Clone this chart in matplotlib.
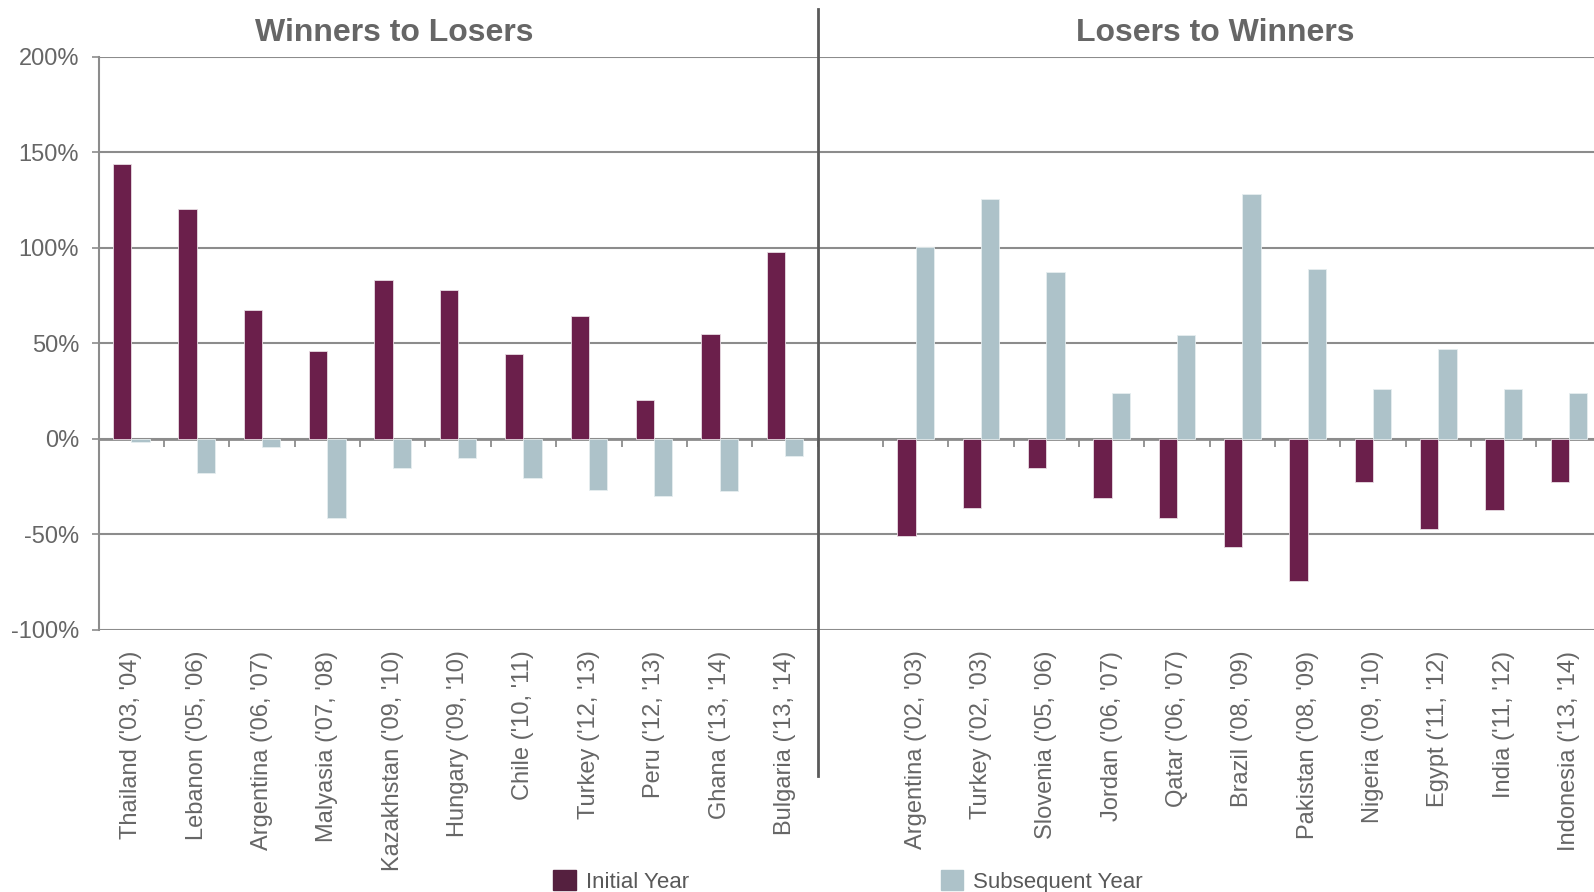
import matplotlib
matplotlib.use("Agg")
import matplotlib.pyplot as plt
from matplotlib.patches import Patch
from matplotlib.ticker import FuncFormatter
import numpy as np

plt.rcParams['font.family'] = ['Liberation Sans', 'DejaVu Sans']

# Winners to Losers (left panel)
left_labels = ["Thailand ('03, '04)", "Lebanon ('05, '06)", "Argentina ('06, '07)",
               "Malyasia ('07, '08)", "Kazakhstan ('09, '10)", "Hungary ('09, '10)",
               "Chile ('10, '11)", "Turkey ('12, '13)", "Peru ('12, '13)",
               "Ghana ('13, '14)", "Bulgaria ('13, '14)"]
left_initial = [143.7, 120.3, 67.2, 45.9, 83.2, 77.7, 44.2, 64.2, 20.1, 54.8, 97.7]
left_subsequent = [-1.6, -17.8, -4.2, -41.4, -15.2, -9.9, -20.6, -26.9, -30.2, -27.6, -8.9]

# Losers to Winners (right panel)
right_labels = ["Argentina ('02, '03)", "Turkey ('02, '03)", "Slovenia ('05, '06)",
                "Jordan ('06, '07)", "Qatar ('06, '07)", "Brazil ('08, '09)",
                "Pakistan ('08, '09)", "Nigeria ('09, '10)", "Egypt ('11, '12)",
                "India ('11, '12)", "Indonesia ('13, '14)"]
right_initial = [-51.1, -36.1, -15.2, -31.0, -41.7, -56.5, -74.5, -22.8, -47.1, -37.5, -22.7]
right_subsequent = [100.5, 125.3, 87.4, 24.1, 54.1, 128.1, 88.8, 26.2, 46.8, 25.9, 23.8]

panel_titles = ["Winners to Losers", "Losers to Winners"]
series_names = ["Initial Year", "Subsequent Year"]

c_init = '#6b1f4b'
c_sub = '#adc2c9'
c_text = '#666666'
c_grid = '#8c8c8c'

# one empty slot between the two groups
n_left = len(left_labels)
pos = np.r_[np.arange(n_left), np.arange(len(right_labels)) + n_left + 1]
labels = left_labels + right_labels
initial = np.array(left_initial + right_initial)
subsequent = np.array(left_subsequent + right_subsequent)
n_slots = len(pos) + 1

fig = plt.figure(figsize=(15.94, 8.92), dpi=100)
ax = fig.add_axes([0.0619, 0.294, 0.943, 0.6424])

w = 0.28
ax.bar(pos - w / 2, initial, width=w, color=c_init, edgecolor='#e8dce3', linewidth=0.6, zorder=3)
ax.bar(pos + w / 2, subsequent, width=w, color=c_sub, edgecolor='#e6eef0', linewidth=0.6, zorder=3)

ax.set_xlim(-0.5, n_slots - 0.5)
ax.set_ylim(-100, 200)
ax.set_yticks(np.arange(-100, 201, 50))
ax.yaxis.set_major_formatter(FuncFormatter(lambda v, p: f"{v:.0f}%"))
ax.yaxis.grid(True, color=c_grid, linewidth=1.5, zorder=1)
ax.tick_params(axis='y', length=5, width=1.2, color=c_grid, pad=9,
               labelsize=17, labelcolor=c_text)

for s in ['top', 'right', 'bottom']:
    ax.spines[s].set_visible(False)
ax.spines['left'].set_color(c_grid)
ax.spines['left'].set_linewidth(1.5)

ax.set_xticks(pos)
ax.set_xticklabels(labels, rotation=90, fontsize=17, color=c_text)
ax.tick_params(axis='x', length=0, pad=15)

# zero line with category separators
y0 = (0 - (-100)) / 300
sec = ax.secondary_xaxis(y0)
sec.set_xticks(np.arange(1, n_slots) - 0.5)
sec.tick_params(axis='x', direction='out', length=6, width=1.3, color=c_grid,
                labelbottom=False, labeltop=False)
sec.spines['bottom'].set_color(c_grid)
sec.spines['bottom'].set_linewidth(2)

# divider between the panels
ax.plot([n_left - 0.5, n_left - 0.5], [225, -176.5], color='#5a5a5a',
        linewidth=2, clip_on=False, zorder=4)

ax.text(4.03, 212.6, panel_titles[0], ha='center', va='center', fontsize=23,
        fontweight='bold', color=c_text, clip_on=False)
ax.text(16.58, 212.6, panel_titles[1], ha='center', va='center', fontsize=23,
        fontweight='bold', color=c_text, clip_on=False)

handles = [Patch(color='#55203f'), Patch(color=c_sub)]
fig.legend(handles, series_names, loc='center', bbox_to_anchor=(0.532, 0.012),
           ncol=2, frameon=False, handlelength=1.0, handleheight=1.0,
           handletextpad=0.45, columnspacing=11.35,
           prop={'family': ['Liberation Sans Narrow', 'Liberation Sans'], 'size': 16},
           labelcolor='#595959')

fig.savefig('out.png', dpi=100)
